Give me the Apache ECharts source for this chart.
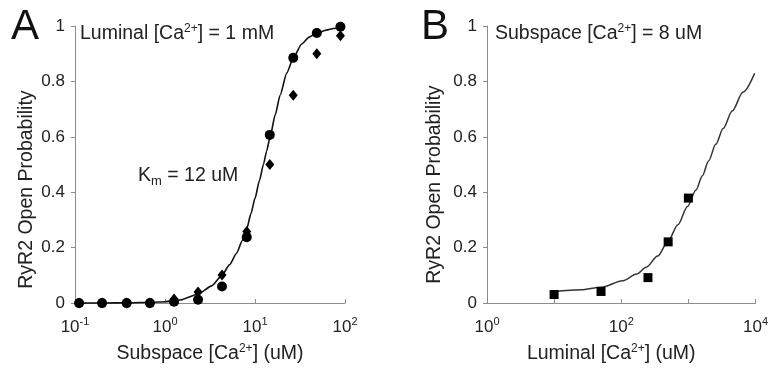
<!DOCTYPE html>
<html>
<head>
<meta charset="utf-8">
<script src="https://cdn.jsdelivr.net/npm/echarts@6/dist/echarts.min.js"></script>
<style>
html,body{margin:0;padding:0;background:#fff;}
#chart{width:771px;height:370px;}
</style>
</head>
<body>
<div id="chart"></div>
<script>
// ---------- Data ----------
// Panel A: subspace [Ca2+] (uM) vs RyR2 open probability, luminal = 1 mM
const aConc      = [0.111, 0.2, 0.375, 0.68, 1.26, 2.33, 4.3, 8.1, 14.6, 26.6, 48.6, 89];
const aCircles   = [0, 0, 0, 0, 0.005, 0.012, 0.06, 0.238, 0.607, 0.885, 0.975, 0.997];
const aDiamonds  = [0, 0, 0, 0, 0.015, 0.04, 0.101, 0.258, 0.5, 0.75, 0.9, 0.965];
const aFitX      = [0.111, 0.2, 0.4, 0.7, 1.0, 1.47, 2.35, 3.3, 4.27, 5.2, 6.25, 7.2, 8.1, 9, 10, 11.2, 12.4, 13.5, 14.7, 16.8, 19, 22.5, 26.7, 33, 40, 48.4, 62, 75, 88, 100];
const aFitY      = [0, 0.0005, 0.001, 0.003, 0.005, 0.011, 0.033, 0.062, 0.099, 0.138, 0.18, 0.225, 0.268, 0.322, 0.378, 0.442, 0.5, 0.55, 0.6, 0.68, 0.75, 0.83, 0.885, 0.935, 0.96, 0.974, 0.985, 0.991, 0.995, 0.997];
// Panel B: luminal [Ca2+] (uM) vs RyR2 open probability, subspace = 8 uM
const bConc      = [10, 50, 250, 500, 1000];
const bSquares   = [0.031, 0.042, 0.092, 0.221, 0.379];
const bFitX      = [10, 25, 50, 106, 170, 235, 350, 490, 700, 970, 1300, 1620, 2000, 2560, 3300, 4500, 6500, 9700];
const bFitY      = [0.042, 0.048, 0.057, 0.081, 0.105, 0.129, 0.17, 0.22, 0.283, 0.349, 0.408, 0.46, 0.513, 0.573, 0.63, 0.693, 0.761, 0.829];
// Axis ticks
const yTicks     = [0, 0.2, 0.4, 0.6, 0.8, 1];
const aXRange    = [0.1, 100];
const bXRange    = [1, 10000];

const zip = (xs, ys) => xs.map((x, i) => [x, ys[i]]);

const FONT = 'Liberation Sans, Arial, sans-serif';
const TXT = '#222';
const AXC = '#8c8c8c';

function expLabel(v) {
  const e = Math.round(Math.log10(v));
  return '{b|10}{s|' + e + '}';
}
const expRich = {
  b: { fontSize: 17, fontFamily: FONT, color: TXT, lineHeight: 22 },
  s: { fontSize: 11, fontFamily: FONT, color: TXT, lineHeight: 12, verticalAlign: 'top' }
};
const nameRich = {
  sup: { fontSize: 12, fontFamily: FONT, color: TXT, lineHeight: 12, verticalAlign: 'top' }
};

function yAxis(gridIndex, padRight) {
  return {
    gridIndex, type: 'value', min: yTicks[0], max: yTicks[yTicks.length - 1], interval: 0.2,
    name: 'RyR2 Open Probability', nameLocation: 'middle', nameGap: gridIndex === 0 ? 38 : 42,
    nameTextStyle: { fontSize: 19.5, fontFamily: FONT, color: TXT, padding: [0, padRight, 0, 0] },
    axisLine: { show: true, lineStyle: { color: AXC, width: 1 } },
    axisTick: { show: true, inside: false, length: 4, lineStyle: { color: AXC } },
    axisLabel: { fontSize: 17, fontFamily: FONT, color: TXT, margin: 10 },
    splitLine: { show: false }
  };
}

function xAxis(gridIndex, range, name, padRight, hideOdd) {
  return {
    gridIndex, type: 'log', logBase: 10, min: range[0], max: range[1],
    name, nameLocation: 'middle', nameGap: 31,
    nameTextStyle: { fontSize: 19.5, fontFamily: FONT, color: TXT, lineHeight: 22, rich: nameRich, padding: [0, padRight, 0, 0] },
    axisLine: { show: true, lineStyle: { color: AXC, width: 1 } },
    axisTick: { show: true, inside: true, length: 4, lineStyle: { color: AXC } },
    axisLabel: {
      margin: 13, lineHeight: 22, rich: expRich,
      formatter: (v) => {
        const e = Math.round(Math.log10(v));
        if (hideOdd && e % 2 !== 0) return '';
        return expLabel(v);
      }
    },
    splitLine: { show: false }
  };
}

const chart = echarts.init(document.getElementById('chart'), null, { renderer: 'canvas' });
chart.setOption({
  animation: false,
  backgroundColor: '#fff',
  grid: [
    { left: 75, top: 26, width: 270, height: 280 },
    { left: 487, top: 26, width: 270, height: 280 }
  ],
  xAxis: [
    xAxis(0, aXRange, 'Subspace [Ca{sup|2+}] (uM)', 0, false),
    xAxis(1, bXRange, 'Luminal [Ca{sup|2+}] (uM)', 20, true)
  ],
  yAxis: [yAxis(0, 50), yAxis(1, 40)],
  series: [
    {
      type: 'line', xAxisIndex: 0, yAxisIndex: 0, data: zip(aFitX, aFitY),
      smooth: 0.2, smoothMonotone: 'x', showSymbol: false, lineStyle: { color: '#111', width: 1.6 }, z: 2
    },
    {
      type: 'scatter', xAxisIndex: 0, yAxisIndex: 0, data: zip(aConc, aCircles),
      symbol: 'circle', symbolSize: 10, itemStyle: { color: '#000', opacity: 1 }, z: 3
    },
    {
      type: 'scatter', xAxisIndex: 0, yAxisIndex: 0, data: zip(aConc, aDiamonds),
      symbol: 'diamond', symbolSize: [9, 11], itemStyle: { color: '#000', opacity: 1 }, z: 3
    },
    {
      type: 'line', xAxisIndex: 1, yAxisIndex: 1, data: zip(bFitX, bFitY),
      smooth: 0.3, smoothMonotone: 'x', showSymbol: false, lineStyle: { color: '#333', width: 1.5 }, z: 2
    },
    {
      type: 'scatter', xAxisIndex: 1, yAxisIndex: 1, data: zip(bConc, bSquares),
      symbol: 'rect', symbolSize: 9, itemStyle: { color: '#000', opacity: 1 }, z: 3
    }
  ],
  graphic: [
    { type: 'text', left: 11, top: 6, style: { text: 'A', font: '42px ' + FONT, fill: '#111' } },
    { type: 'text', left: 421, top: 6, style: { text: 'B', font: '42px ' + FONT, fill: '#111' } },
    { type: 'text', x: 80, y: 34, style: {
        text: 'Luminal [Ca{sup|2+}] = 1 mM', fontSize: 19.5, fontFamily: FONT, fill: TXT,
        verticalAlign: 'middle', lineHeight: 22, rich: nameRich } },
    { type: 'text', x: 495, y: 34, style: {
        text: 'Subspace [Ca{sup|2+}] = 8 uM', fontSize: 19.5, fontFamily: FONT, fill: TXT,
        verticalAlign: 'middle', lineHeight: 22, rich: nameRich } },
    { type: 'text', x: 138, y: 176, style: {
        text: 'K{sub|m} = 12 uM', fontSize: 19.5, fontFamily: FONT, fill: TXT,
        verticalAlign: 'middle', lineHeight: 24,
        rich: { sub: { fontSize: 13, fontFamily: FONT, fill: TXT, lineHeight: 14, verticalAlign: 'bottom' } } } }
  ]
});
</script>
</body>
</html>
